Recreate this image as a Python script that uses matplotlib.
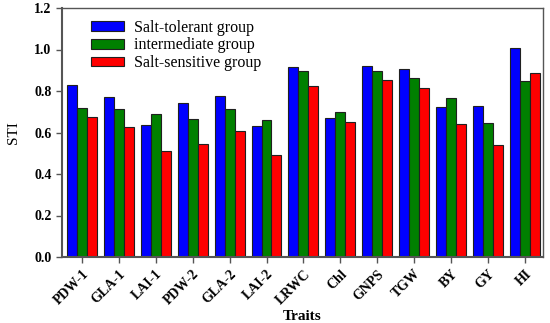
import numpy as np
import matplotlib
matplotlib.use("Agg")
import matplotlib.pyplot as plt

traits = ["PDW-1", "GLA-1", "LAI-1", "PDW-2", "GLA-2", "LAI-2", "LRWC",
          "Chl", "GNPS", "TGW", "BY", "GY", "HI"]
tolerant = [0.829, 0.771, 0.636, 0.742, 0.776, 0.631, 0.917,
            0.670, 0.920, 0.906, 0.724, 0.729, 1.008]
intermediate = [0.716, 0.713, 0.690, 0.665, 0.713, 0.660, 0.896,
                0.700, 0.898, 0.862, 0.766, 0.646, 0.850]
sensitive = [0.675, 0.627, 0.511, 0.545, 0.607, 0.492, 0.824,
             0.651, 0.853, 0.816, 0.641, 0.540, 0.887]
labels = ["Salt-tolerant group", "intermediate group", "Salt-sensitive group"]
colors = ["#0000ff", "#008000", "#ff0000"]

plt.rcParams['font.family'] = ['Liberation Serif', 'DejaVu Serif']

fig = plt.figure(figsize=(5.5, 3.23), dpi=100)
ax = fig.add_axes([62 / 550, 1 - 257 / 323, 481 / 550, 249 / 323])

x = np.arange(len(traits))
w = 0.27
for i, (vals, lab, col) in enumerate(zip([tolerant, intermediate, sensitive], labels, colors)):
    ax.bar(x + (i - 1) * w, vals, w, color=col, edgecolor='#202020', linewidth=0.8, label=lab)

ax.set_xlim(-0.54, 12.49)
ax.set_ylim(0, 1.2)
ax.set_yticks(np.arange(0, 1.21, 0.2))
ax.set_yticklabels([f"{v:.1f}" for v in np.arange(0, 1.21, 0.2)], fontweight='bold', fontsize=10)
ax.set_xticks(x)
ax.set_xticklabels(traits, rotation=45, ha='right', rotation_mode='anchor',
                   fontweight='bold', fontsize=10)
ax.tick_params(direction='out', length=4, width=1, color='#555555')

for side in ['left', 'bottom']:
    ax.spines[side].set_linewidth(1.5)
    ax.spines[side].set_color('#555555')
for side in ['top', 'right']:
    ax.spines[side].set_linewidth(1.0)
    ax.spines[side].set_color('#555555')

ax.set_ylabel("STI", fontsize=11, labelpad=10)
ax.set_xlabel("Traits", fontsize=11, fontweight='bold', labelpad=2)

ax.legend(loc='upper left', bbox_to_anchor=(0.03, 1.01), frameon=False, fontsize=11.5,
          handlelength=2.1, handleheight=0.55, labelspacing=0.1, handletextpad=0.6)

fig.savefig("out.png", dpi=100)
